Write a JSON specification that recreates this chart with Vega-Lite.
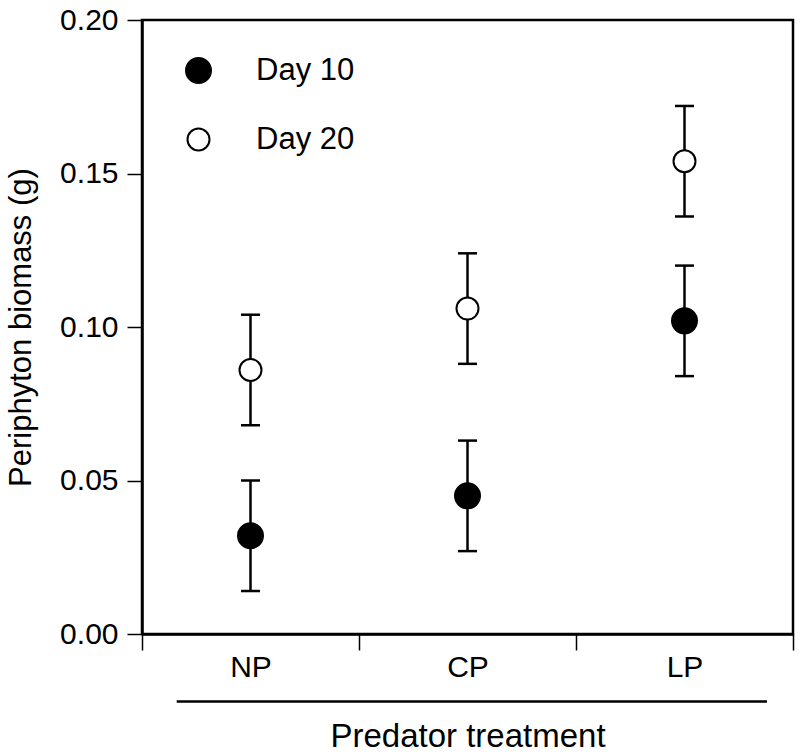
{
  "$schema": "https://vega.github.io/schema/vega-lite/v6.json",
  "width": 651,
  "height": 614,
  "padding": {"left": 5, "top": 5, "right": 5, "bottom": 0},
  "config": {
    "font": "Liberation Sans",
    "view": {"stroke": "black", "strokeWidth": 2.5},
    "axis": {
      "grid": false,
      "domainColor": "black",
      "domainWidth": 2.5,
      "tickColor": "black",
      "tickWidth": 1.5,
      "labelColor": "black",
      "titleColor": "black",
      "labelFont": "Liberation Sans",
      "titleFont": "Liberation Sans",
      "titleFontWeight": "normal"
    }
  },
  "data": {
    "values": [
      {"treatment": "NP", "day": "Day 10", "mean": 0.032, "lo": 0.014, "hi": 0.050},
      {"treatment": "NP", "day": "Day 20", "mean": 0.086, "lo": 0.068, "hi": 0.104},
      {"treatment": "CP", "day": "Day 10", "mean": 0.045, "lo": 0.027, "hi": 0.063},
      {"treatment": "CP", "day": "Day 20", "mean": 0.106, "lo": 0.088, "hi": 0.124},
      {"treatment": "LP", "day": "Day 10", "mean": 0.102, "lo": 0.084, "hi": 0.120},
      {"treatment": "LP", "day": "Day 20", "mean": 0.154, "lo": 0.136, "hi": 0.172}
    ]
  },
  "encoding": {
    "x": {
      "field": "treatment",
      "type": "nominal",
      "scale": {"domain": ["NP", "CP", "LP"], "paddingInner": 0, "paddingOuter": 0},
      "axis": {
        "title": "Predator treatment",
        "titleFontSize": 33,
        "titlePadding": 38,
        "labelFontSize": 30,
        "labelAngle": 0,
        "labelPadding": 2,
        "tickBand": "extent",
        "tickSize": 16
      }
    }
  },
  "layer": [
    {
      "mark": {"type": "rule", "strokeWidth": 2.5, "color": "black"},
      "encoding": {
        "y": {
          "field": "lo",
          "type": "quantitative",
          "scale": {"domain": [0, 0.2], "nice": false, "zero": false},
          "axis": {
            "title": "Periphyton biomass (g)",
            "titleFontSize": 31,
            "titlePadding": 22,
            "labelFontSize": 30,
            "labelPadding": 9,
            "tickSize": 15,
            "values": [0, 0.05, 0.1, 0.15, 0.2],
            "format": ".2f"
          }
        },
        "y2": {"field": "hi"}
      }
    },
    {
      "mark": {"type": "tick", "size": 19, "thickness": 2.5, "color": "black", "opacity": 1},
      "encoding": {"y": {"field": "lo", "type": "quantitative"}}
    },
    {
      "mark": {"type": "tick", "size": 19, "thickness": 2.5, "color": "black", "opacity": 1},
      "encoding": {"y": {"field": "hi", "type": "quantitative"}}
    },
    {
      "mark": {"type": "point", "shape": "circle", "filled": true, "stroke": "black", "strokeWidth": 2, "opacity": 1},
      "encoding": {
        "y": {"field": "mean", "type": "quantitative"},
        "fill": {
          "field": "day",
          "type": "nominal",
          "scale": {"domain": ["Day 10", "Day 20"], "range": ["black", "white"]},
          "legend": {
            "title": null,
            "orient": "none",
            "legendX": 41,
            "legendY": 35,
            "padding": 0,
            "labelFontSize": 31,
            "labelColor": "black",
            "labelOffset": 42,
            "rowPadding": 36,
            "symbolType": "circle",
            "symbolStrokeColor": "black",
            "symbolStrokeWidth": 2,
            "symbolOpacity": 1,
            "encode": {"symbols": {"update": {"stroke": {"value": "black"}, "strokeWidth": {"value": 2}, "opacity": {"value": 1}}}}
          }
        },
        "size": {
          "field": "day",
          "type": "nominal",
          "scale": {"domain": ["Day 10", "Day 20"], "range": [625, 484]},
          "legend": {
            "title": null,
            "orient": "none",
            "legendX": 41,
            "legendY": 35,
            "padding": 0,
            "labelFontSize": 31,
            "labelColor": "black",
            "labelOffset": 42,
            "rowPadding": 36,
            "symbolType": "circle",
            "symbolStrokeColor": "black",
            "symbolStrokeWidth": 2,
            "symbolOpacity": 1,
            "encode": {"symbols": {"update": {"stroke": {"value": "black"}, "strokeWidth": {"value": 2}, "opacity": {"value": 1}}}}
          }
        }
      }
    },
    {
      "data": {"values": [{"from": "NP", "to": "LP"}]},
      "mark": {"type": "rule", "strokeWidth": 2.5, "color": "black"},
      "encoding": {
        "x": {"field": "from", "type": "nominal", "bandPosition": 0.16},
        "x2": {"field": "to", "bandPosition": 0.88},
        "y": {"datum": -0.022}
      }
    }
  ]
}
